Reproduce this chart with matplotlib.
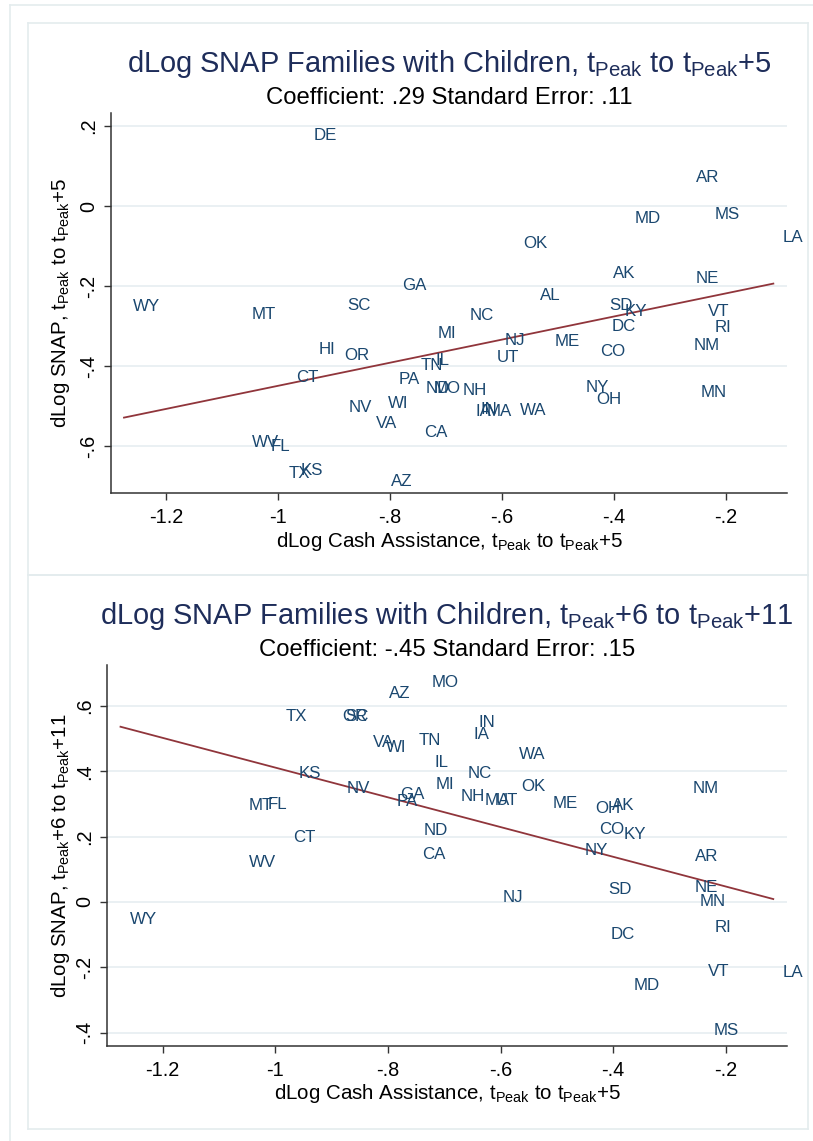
import numpy as np
import matplotlib
matplotlib.use("Agg")
import matplotlib.pyplot as plt
from matplotlib.lines import Line2D

plt.rcParams['font.family'] = ['Liberation Sans', 'DejaVu Sans']
plt.rcParams['mathtext.fontset'] = 'custom'
plt.rcParams['mathtext.rm'] = 'Liberation Sans'
plt.rcParams['mathtext.it'] = 'Liberation Sans:italic'
plt.rcParams['mathtext.bf'] = 'Liberation Sans:bold'

# ---------------- data ----------------
states = ["AK", "AL", "AR", "AZ", "CA", "CO", "CT", "DC", "DE", "FL",
          "GA", "HI", "IA", "IL", "IN", "KS", "KY", "LA", "MA", "MD",
          "ME", "MI", "MN", "MO", "MS", "MT", "NC", "ND", "NE", "NH",
          "NJ", "NM", "NV", "NY", "OH", "OK", "OR", "PA", "RI", "SC",
          "SD", "TN", "TX", "UT", "VA", "VT", "WA", "WI", "WV", "WY"]

dlog_cash = [-0.418, -0.548, -0.270, -0.815, -0.755, -0.441, -0.984, -0.421, -0.953, -1.029,
             -0.794, -0.943, -0.664, -0.734, -0.655, -0.975, -0.398, -0.1155, -0.644, -0.379,
             -0.523, -0.731, -0.262, -0.739, -0.237, -1.063, -0.674, -0.752, -0.271, -0.687,
             -0.612, -0.274, -0.890, -0.466, -0.448, -0.579, -0.897, -0.800, -0.236, -0.892,
             -0.425, -0.761, -0.997, -0.625, -0.842, -0.248, -0.584, -0.820, -1.063, -1.275]

dlog_snap_0_5 = [-0.166, -0.220, 0.075, -0.685, -0.5625, -0.360, -0.425, -0.2975, 0.179, -0.5975,
                 -0.195, -0.356, -0.510, -0.383, -0.505, -0.658, -0.260, -0.075, -0.510, -0.028,
                 -0.335, -0.316, -0.4625, -0.452, -0.018, -0.268, -0.270, -0.452, -0.177, -0.4575,
                 -0.3325, -0.346, -0.500, -0.449, -0.479, -0.091, -0.370, -0.431, -0.300, -0.245,
                 -0.245, -0.396, -0.664, -0.375, -0.541, -0.260, -0.508, -0.489, -0.5875, -0.2475]

nan = float('nan')
dlog_snap_6_11 = [0.300, nan, 0.144, 0.641, 0.149, 0.225, 0.203, -0.096, nan, 0.302,
                  0.332, nan, 0.518, 0.432, 0.554, 0.398, 0.210, -0.211, 0.314, -0.251,
                  0.305, 0.363, 0.006, 0.677, -0.388, 0.299, 0.398, 0.223, 0.049, 0.327,
                  0.018, 0.353, 0.353, 0.162, 0.291, 0.358, 0.572, 0.312, -0.073, 0.572,
                  0.042, 0.498, 0.572, 0.314, 0.493, -0.208, 0.455, 0.477, 0.126, -0.048]

# fitted lines (end points)
fit_x = [-1.275, -0.1155]
fit_y_0_5 = [-0.529, -0.194]
fit_y_6_11 = [0.536, 0.009]

xticks = [-1.2, -1.0, -0.8, -0.6, -0.4, -0.2]
xticklabels = ["-1.2", "-1", "-.8", "-.6", "-.4", "-.2"]
yticks_top = [0.2, 0.0, -0.2, -0.4, -0.6]
yticklabels_top = [".2", "0", "-.2", "-.4", "-.6"]
yticks_bot = [0.6, 0.4, 0.2, 0.0, -0.2, -0.4]
yticklabels_bot = [".6", ".4", ".2", "0", "-.2", "-.4"]

sub = r"t$_{\mathrm{Peak}}$"
title_top = "dLog SNAP Families with Children, " + sub + " to " + sub + "+5"
title_bot = "dLog SNAP Families with Children, " + sub + "+6 to " + sub + "+11"
subtitle_top = "Coefficient: .29 Standard Error: .11"
subtitle_bot = "Coefficient: -.45 Standard Error: .15"
xlabel = "dLog Cash Assistance, " + sub + " to " + sub + "+5"
ylabel_top = "dLog SNAP, " + sub + " to " + sub + "+5"
ylabel_bot = "dLog SNAP, " + sub + "+6 to " + sub + "+11"

# ---------------- style ----------------
W, H = 813, 1141
DPI = 100
NAVY = "#1a476f"
MAROON = "#90353b"
GRID = "#e6eef1"
FRAME = "#e4ecee"
TITLE_C = "#1e2d5a"
AX_C = "#333333"

fig = plt.figure(figsize=(W / DPI, H / DPI), dpi=DPI)
fig.patch.set_facecolor("white")


def fx(px):
    return px / W


def fy(py):
    return 1 - py / H


def hline(x0, x1, y, **kw):
    fig.add_artist(Line2D([fx(x0), fx(x1)], [fy(y), fy(y)], transform=fig.transFigure, **kw))


def vline(x, y0, y1, **kw):
    fig.add_artist(Line2D([fx(x), fx(x)], [fy(y0), fy(y1)], transform=fig.transFigure, **kw))


fkw = dict(color=FRAME, lw=1.2)
hline(10, W, 5, **fkw)
vline(10, 5, H, **fkw)
for (t, b) in [(23, 575), (575, 1129)]:
    hline(27.5, 808, t, **fkw)
    hline(27.5, 808, b, **fkw)
    vline(27.5, t, b, **fkw)
    vline(808, t, b, **fkw)


def make_panel(left, top, bottom, xlim, ylim, yvals, fit_y, yticks, yticklabels,
               title, subtitle, ylabel, offset):
    right = 787
    ax = fig.add_axes([fx(left), fy(bottom), fx(right) - fx(left), fy(top) - fy(bottom)])
    ax.set_xlim(*xlim)
    ax.set_ylim(*ylim)
    for s in ["top", "right"]:
        ax.spines[s].set_visible(False)
    for s in ["left", "bottom"]:
        ax.spines[s].set_color(AX_C)
        ax.spines[s].set_linewidth(1.1)
    for yt in yticks:
        ax.axhline(yt, color=GRID, lw=1.2, zorder=0)
    ax.set_xticks(xticks)
    ax.set_xticklabels(xticklabels)
    ax.set_yticks(yticks)
    ax.set_yticklabels(yticklabels, rotation=90, va="center", ha="center")
    ax.tick_params(axis="both", direction="out", length=5, width=1.0, color=AX_C,
                   labelsize=14.3, labelcolor="black")
    ax.tick_params(axis="x", pad=6)
    ax.tick_params(axis="y", pad=11)
    ax.plot(fit_x, fit_y, color=MAROON, lw=1.3, zorder=2)
    for st, xv, yv in zip(states, dlog_cash, yvals):
        if np.isnan(yv):
            continue
        ax.annotate(st, (xv, yv), xytext=(9, 0), textcoords="offset pixels",
                    ha="left", va="center_baseline", fontsize=12.2, color=NAVY,
                    annotation_clip=False, zorder=3)
    cx = fx((left + right) / 2)
    fig.text(cx, fy(72 + offset), title, ha="center", va="baseline", fontsize=20.9, color=TITLE_C)
    fig.text(cx, fy(104 + offset), subtitle, ha="center", va="baseline", fontsize=17.2, color="black")
    fig.text(cx, fy(547 + offset), xlabel, ha="center", va="baseline", fontsize=14.8, color="black")
    fig.text(fx(60), (fy(top) + fy(bottom)) / 2, ylabel, ha="center", va="center", rotation=90,
             fontsize=14.8, color="black")
    return ax


make_panel(111, 113, 493, (-1.2982, -0.0911), (-0.7175, 0.2325), dlog_snap_0_5, fit_y_0_5,
           yticks_top, yticklabels_top, title_top, subtitle_top, ylabel_top, 0)
make_panel(107, 665, 1046, (-1.299, -0.0911), (-0.4404, 0.7248), dlog_snap_6_11, fit_y_6_11,
           yticks_bot, yticklabels_bot, title_bot, subtitle_bot, ylabel_bot, 552)

fig.savefig("out.png", dpi=DPI)
